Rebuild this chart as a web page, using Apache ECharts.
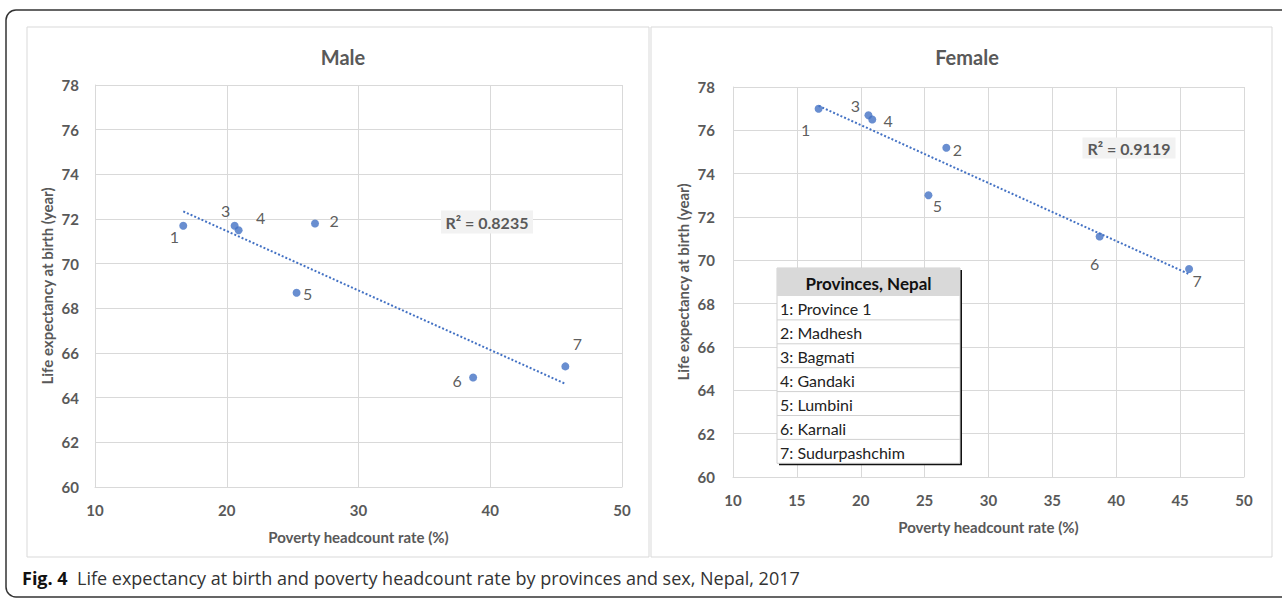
<!DOCTYPE html>
<html>
<head>
<meta charset="utf-8">
<script src="https://cdn.jsdelivr.net/npm/echarts@6/dist/echarts.min.js"></script>
<style>
  html, body { margin: 0; padding: 0; background: #fff; }
  #chart { width: 1282px; height: 598px; }
</style>
</head>
<body>
<div id="chart"></div>
<script>
// data
const provinceIds = ['1', '2', '3', '4', '5', '6', '7'];
const provinceNames = ['Province 1', 'Madhesh', 'Bagmati', 'Gandaki', 'Lumbini', 'Karnali', 'Sudurpashchim'];
const povertyRate = [16.7, 26.7, 20.6, 20.9, 25.3, 38.7, 45.7];
const maleLifeExp = [71.7, 71.8, 71.7, 71.5, 68.7, 64.9, 65.4];
const femaleLifeExp = [77.0, 75.2, 76.7, 76.5, 73.0, 71.1, 69.6];
const maleR2 = '0.8235';
const femaleR2 = '0.9119';
const yRange = [60, 78, 2];
const maleXRange = [10, 50, 10];
const femaleXRange = [10, 50, 5];

// label placement (pixels from the marker)
const maleLabelOffset = [[-9, 11], [19, -3], [-9, -15], [22, -13], [11, 1], [-16, 3], [12, -23]];
const femaleLabelOffset = [[-13, 21], [11, 2], [-13, -10], [16, 1], [9, 10], [-5, 27], [8, 11]];

const FONT = 'Lato, "Open Sans", sans-serif';
const GREY = '#595959';
const BLUE = '#4472C4';

// least squares trendline, like the excel one
function fitLine(xs, ys) {
  const n = xs.length;
  const mx = xs.reduce((a, b) => a + b, 0) / n;
  const my = ys.reduce((a, b) => a + b, 0) / n;
  let sxy = 0, sxx = 0;
  for (let i = 0; i < n; i++) {
    sxy += (xs[i] - mx) * (ys[i] - my);
    sxx += (xs[i] - mx) * (xs[i] - mx);
  }
  const b = sxy / sxx;
  const a = my - b * mx;
  const x0 = Math.min(...xs), x1 = Math.max(...xs);
  return [[x0, a + b * x0], [x1, a + b * x1]];
}

function xAxisFor(gridIndex, range) {
  return {
    gridIndex: gridIndex,
    type: 'value',
    min: range[0], max: range[1], interval: range[2],
    name: 'Poverty headcount rate (%)',
    nameLocation: 'middle',
    nameGap: 42,
    nameTextStyle: { color: GREY, fontSize: 15, fontWeight: 'bold', fontFamily: FONT },
    axisLine: { show: true, lineStyle: { color: '#d9d9d9' } },
    axisTick: { show: false },
    axisLabel: { color: GREY, fontSize: 15, fontWeight: 'bold', fontFamily: FONT, margin: 15 },
    splitLine: { show: true, lineStyle: { color: '#d9d9d9' } }
  };
}

function yAxisFor(gridIndex, gap, labelMargin) {
  return {
    gridIndex: gridIndex,
    type: 'value',
    min: yRange[0], max: yRange[1], interval: yRange[2],
    name: 'Life expectancy at birth (year)',
    nameLocation: 'middle',
    nameGap: gap,
    nameTextStyle: { color: GREY, fontSize: 15, fontWeight: 'bold', fontFamily: FONT },
    axisLine: { show: true, lineStyle: { color: '#d9d9d9' } },
    axisTick: { show: false },
    axisLabel: { color: GREY, fontSize: 15, fontWeight: 'bold', fontFamily: FONT, margin: labelMargin },
    splitLine: { show: true, lineStyle: { color: '#d9d9d9' } }
  };
}

function pointsSeries(idx, values, offsets) {
  return {
    type: 'scatter',
    xAxisIndex: idx, yAxisIndex: idx,
    symbolSize: 8,
    itemStyle: { color: BLUE },
    z: 5,
    data: values.map((v, i) => ({
      value: [povertyRate[i], v],
      label: { offset: offsets[i] }
    })),
    label: {
      show: true,
      position: 'inside',
      align: 'center',
      verticalAlign: 'middle',
      color: '#333',
      fontSize: 16,
      fontFamily: FONT,
      formatter: p => provinceIds[p.dataIndex]
    }
  };
}

function trendSeries(idx, values) {
  return {
    type: 'line',
    xAxisIndex: idx, yAxisIndex: idx,
    symbol: 'none',
    silent: true,
    z: 3,
    lineStyle: { color: BLUE, width: 2, type: [2, 2] },
    data: fitLine(povertyRate, values)
  };
}

function r2Box(cx, cy, w, h, val) {
  return {
    type: 'group',
    children: [
      { type: 'rect', z: 100, shape: { x: cx - w / 2, y: cy - h / 2, width: w, height: h }, style: { fill: '#f2f2f2' } },
      { type: 'text', z: 101, x: cx, y: cy, style: {
        text: 'R\u00B2 = ' + val, fill: GREY, font: 'bold 16px ' + FONT,
        align: 'center', verticalAlign: 'middle' } }
    ]
  };
}

// provinces table in the female panel
function provinceTable() {
  const left = 777, top = 268, w = 183, headH = 28, rowH = 23.9;
  const bodyH = rowH * provinceNames.length;
  const children = [
    { type: 'rect', z: 100, shape: { x: left + 2, y: top + 2, width: w, height: headH + bodyH }, style: { fill: '#111' } },
    { type: 'rect', z: 101, shape: { x: left, y: top, width: w, height: headH + bodyH }, style: { fill: '#fff', stroke: '#d0d0d0', lineWidth: 1 } },
    { type: 'rect', z: 102, shape: { x: left, y: top, width: w, height: headH }, style: { fill: '#d9d9d9' } },
    { type: 'text', z: 103, x: left + w / 2, y: top + headH / 2 + 1, style: {
      text: 'Provinces, Nepal', fill: '#111', font: 'bold 17px ' + FONT, align: 'center', verticalAlign: 'middle' } }
  ];
  provinceNames.forEach((name, i) => {
    const y = top + headH + i * rowH;
    if (i > 0) {
      children.push({ type: 'line', z: 102, shape: { x1: left, y1: y, x2: left + w, y2: y }, style: { stroke: '#d0d0d0', lineWidth: 1 } });
    }
    children.push({ type: 'text', z: 103, x: left + 3, y: y + rowH / 2 + 1, style: {
      text: provinceIds[i] + ': ' + name, fill: '#222', font: '16px ' + FONT, align: 'left', verticalAlign: 'middle' } });
  });
  return { type: 'group', children: children };
}

const chart = echarts.init(document.getElementById('chart'), null, { renderer: 'svg' });

const option = {
  animation: false,
  backgroundColor: '#fff',
  title: [
    { text: 'Male', left: 338, top: 42, textAlign: 'center',
      textStyle: { color: GREY, fontSize: 20, fontWeight: 'bold', fontFamily: FONT } },
    { text: 'Female', left: 962, top: 42, textAlign: 'center',
      textStyle: { color: GREY, fontSize: 20, fontWeight: 'bold', fontFamily: FONT } }
  ],
  grid: [
    { left: 95, top: 85, width: 527, height: 402 },
    { left: 733, top: 87, width: 511, height: 390 }
  ],
  xAxis: [xAxisFor(0, maleXRange), xAxisFor(1, femaleXRange)],
  yAxis: [yAxisFor(0, 41, 16), yAxisFor(1, 43, 18)],
  series: [
    trendSeries(0, maleLifeExp),
    pointsSeries(0, maleLifeExp, maleLabelOffset),
    trendSeries(1, femaleLifeExp),
    pointsSeries(1, femaleLifeExp, femaleLabelOffset)
  ],
  graphic: [
    // outer frame
    { type: 'rect', z: -10, shape: { x: 6, y: 10, width: 1290, height: 587, r: 10 },
      style: { fill: 'none', stroke: '#333', lineWidth: 1.5 } },
    // panel borders
    { type: 'rect', z: -9, shape: { x: 27, y: 27, width: 622, height: 530 },
      style: { fill: 'none', stroke: '#d9d9d9', lineWidth: 1 } },
    { type: 'rect', z: -9, shape: { x: 651, y: 27, width: 621, height: 530 },
      style: { fill: 'none', stroke: '#d9d9d9', lineWidth: 1 } },
    r2Box(487, 222, 92, 23, maleR2),
    r2Box(1129, 148, 93, 21, femaleR2),
    provinceTable(),
    // caption
    { type: 'text', x: 22, y: 578, style: {
      text: '{b|Fig. 4}  Life expectancy at birth and poverty headcount rate by provinces and sex, Nepal, 2017',
      fill: '#333', font: '18px "Open Sans", sans-serif', verticalAlign: 'middle',
      rich: { b: { fontWeight: 'bold', fontSize: 18, fontFamily: '"Open Sans", sans-serif', fill: '#111' } } } }
  ]
};

chart.setOption(option);
</script>
</body>
</html>
